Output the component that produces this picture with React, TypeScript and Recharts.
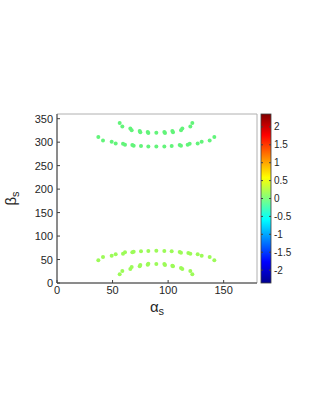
import React from "react";
import { ScatterChart, Scatter, XAxis, YAxis, ReferenceArea } from "recharts";

const xTicks = [0, 50, 100, 150];
const yTicks = [0, 50, 100, 150, 200, 250, 300, 350];
const cbTicks = [-2, -1.5, -1, -0.5, 0, 0.5, 1, 1.5, 2];
const cbRange = [-2.36, 2.36];

const upperInner = [
  [56.4, 340.7], [58.8, 333.6], [66, 329], [67.2, 325.5], [74.4, 323.9], [75, 321],
  [81.6, 321.7], [82.2, 319.6], [89.4, 320.3], [96.6, 321.7], [97.2, 319.6],
  [103.8, 323.9], [104.4, 321], [111.6, 325.5], [112.8, 329], [120, 333.6], [121.8, 340.7],
];
const upperOuter = [
  [37.2, 310.9], [41.4, 303.8], [49.2, 300.9], [52.8, 297.4], [59.4, 296.7], [61.2, 294.6],
  [67.8, 293.9], [69, 292.4], [75.6, 291.7], [82.2, 291], [89.4, 291], [96.6, 291],
  [103.2, 291.7], [110.4, 293.9], [111.6, 292.4], [117.6, 294.6], [119.4, 296.7],
  [126.6, 297.4], [130.2, 300.9], [137.4, 303.8], [141.6, 310.9],
];
const lowerOuter = [
  [37.2, 48.3], [41.4, 55.4], [49.2, 58.3], [52.8, 61.1], [59.4, 62.5], [61.2, 65.4],
  [67.8, 65.4], [69, 66.8], [75.6, 67.5], [82.2, 68.2], [89.4, 68.9], [96.6, 68.2],
  [103.2, 67.5], [110.4, 66.1], [111.6, 64.7], [118.2, 64], [120, 62.5],
  [126.6, 61.1], [130.2, 58.3], [137.4, 55.4], [141.6, 48.3],
];
const lowerInner = [
  [56.4, 18.5], [58.8, 25.6], [66, 29.9], [67.2, 34.1], [74.4, 35.5], [75, 38.4],
  [81.6, 39.1], [82.2, 41.2], [89.4, 40.5], [96.6, 40.5], [97.2, 38.4],
  [103.8, 37], [104.4, 35.5], [111.6, 32], [112.8, 29.9], [120, 25.6], [121.8, 18.5],
];

const toPts = (arr: number[][]) => arr.map(([x, y]) => ({ x, y }));

const upperColor = "#62f47a";
const lowerColor = "#9cfb58";
const font = "'Liberation Sans', Arial, sans-serif";
const txt = "#262626";

const Dot = (props: any) => {
  const { cx, cy, fill } = props;
  if (cx == null || cy == null) return null;
  return <circle cx={cx} cy={cy} r={2} fill={fill} />;
};

const BottomTick = (props: any) => {
  const { x, y, payload } = props;
  return (
    <g>
      <line x1={x} y1={y} x2={x} y2={y - 3} stroke="#404040" />
      <text x={x} y={y + 11} textAnchor="middle" fontSize={11} fontFamily={font} fill={txt}>
        {payload.value}
      </text>
    </g>
  );
};
const LeftTick = (props: any) => {
  const { x, y, payload } = props;
  return (
    <g>
      <line x1={x} y1={y} x2={x + 3} y2={y} stroke="#404040" />
      <text x={x - 4} y={y + 4} textAnchor="end" fontSize={11} fontFamily={font} fill={txt}>
        {payload.value}
      </text>
    </g>
  );
};
const TopTick = (props: any) => {
  const { x, y } = props;
  return <line x1={x} y1={y} x2={x} y2={y + 3} stroke="#707070" />;
};
const RightTick = (props: any) => {
  const { x, y } = props;
  return <line x1={x} y1={y} x2={x - 3} y2={y} stroke="#707070" />;
};

const XLabel = (props: any) => {
  const vb = props.viewBox || {};
  const cx = vb.x + vb.width / 2;
  const y = vb.y + 29;
  return (
    <text x={cx} y={y} textAnchor="middle" fontFamily={font} fill={txt}>
      <tspan fontSize={15}>α</tspan>
      <tspan fontSize={11} dy={3}>s</tspan>
    </text>
  );
};
const YLabel = (props: any) => {
  const vb = props.viewBox || {};
  const cx = vb.x + 16;
  const cy = vb.y + vb.height / 2;
  return (
    <text x={cx} y={cy} textAnchor="middle" fontFamily={font} fill={txt} transform={`rotate(-90 ${cx} ${cy})`}>
      <tspan fontSize={15}>β</tspan>
      <tspan fontSize={11} dy={3}>s</tspan>
    </text>
  );
};

const Colorbar = () => {
  const x = 261;
  const w = 10;
  const top = 114;
  const bottom = 283;
  const h = bottom - top;
  const pos = (v: number) => bottom - ((v - cbRange[0]) / (cbRange[1] - cbRange[0])) * h;
  return (
    <svg width={321} height={415} style={{ position: "absolute", left: 0, top: 0, pointerEvents: "none" }}>
      <defs>
        <linearGradient id="jet" x1="0" y1="1" x2="0" y2="0">
          <stop offset="0" stopColor="#00008f" />
          <stop offset="0.125" stopColor="#0000ff" />
          <stop offset="0.375" stopColor="#00ffff" />
          <stop offset="0.625" stopColor="#ffff00" />
          <stop offset="0.875" stopColor="#ff0000" />
          <stop offset="1" stopColor="#800000" />
        </linearGradient>
      </defs>
      <rect x={x} y={top} width={w} height={h} fill="url(#jet)" stroke="#404040" strokeWidth={0.8} />
      {cbTicks.map((t) => (
        <g key={t}>
          <line x1={x + w} y1={pos(t)} x2={x + w - 2} y2={pos(t)} stroke="#404040" />
          <line x1={x} y1={pos(t)} x2={x + 2} y2={pos(t)} stroke="#404040" />
          <text x={x + w + 3} y={pos(t) + 3.5} fontSize={10} fontFamily={font} fill={txt}>
            {t}
          </text>
        </g>
      ))}
    </svg>
  );
};

export default function App() {
  return (
    <div style={{ position: "absolute", left: 0, top: 0, width: 321, height: 415, background: "#fff" }}>
      <ScatterChart width={321} height={415} margin={{ top: 114, right: 64, bottom: 102, left: 0 }}>
        <XAxis
          type="number"
          dataKey="x"
          xAxisId={0}
          domain={[0, 180]}
          ticks={xTicks}
          tickSize={0}
          tickMargin={0}
          tick={<BottomTick />}
          height={30}
          axisLine={{ stroke: "#404040" }}
          allowDataOverflow
          label={<XLabel />}
        />
        <XAxis
          type="number"
          dataKey="x"
          xAxisId="top"
          orientation="top"
          domain={[0, 180]}
          ticks={xTicks}
          tickSize={0}
          tickMargin={0}
          tick={<TopTick />}
          height={0}
          axisLine={{ stroke: "#b0b0b0" }}
          allowDataOverflow
        />
        <YAxis
          type="number"
          dataKey="y"
          yAxisId={0}
          domain={[0, 360]}
          ticks={yTicks}
          tickSize={0}
          tickMargin={0}
          tick={<LeftTick />}
          width={57}
          axisLine={{ stroke: "#404040" }}
          allowDataOverflow
          label={<YLabel />}
        />
        <YAxis
          type="number"
          dataKey="y"
          yAxisId="right"
          orientation="right"
          domain={[0, 360]}
          ticks={yTicks}
          tickSize={0}
          tickMargin={0}
          tick={<RightTick />}
          width={0}
          axisLine={{ stroke: "#b0b0b0" }}
          allowDataOverflow
        />
        <ReferenceArea x1={0} x2={180} y1={0} y2={360} fill="none" stroke="#b0b0b0" ifOverflow="extendDomain" />
        <Scatter data={[]} xAxisId="top" yAxisId="right" isAnimationActive={false} />
        <Scatter data={toPts(upperInner)} fill={upperColor} shape={<Dot />} isAnimationActive={false} />
        <Scatter data={toPts(upperOuter)} fill={upperColor} shape={<Dot />} isAnimationActive={false} />
        <Scatter data={toPts(lowerOuter)} fill={lowerColor} shape={<Dot />} isAnimationActive={false} />
        <Scatter data={toPts(lowerInner)} fill={lowerColor} shape={<Dot />} isAnimationActive={false} />
      </ScatterChart>
      <Colorbar />
    </div>
  );
}
